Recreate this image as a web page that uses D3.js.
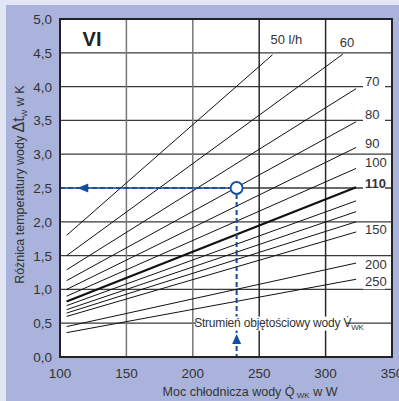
<!DOCTYPE html>
<html>
<head>
<meta charset="utf-8">
<script src="https://cdn.jsdelivr.net/npm/d3@7"></script>
<style>
  body { margin: 0; background: #e2e5f3; }
  svg { display: block; font-family: "Liberation Sans", Arial, sans-serif; }
</style>
</head>
<body>
<script>
// flow rate of each line (l/h) and its end points
const flows = [50, 60, 70, 80, 90, 100, 110, 120, 130, 140, 150, 200, 250]
const lineLabels = ["50 l/h", "60", "70", "80", "90", "100", "110", "", "", "", "150", "200", "250"]
const startQ = 105
const startT = [1.80, 1.50, 1.29, 1.13, 1.00, 0.90, 0.82, 0.76, 0.70, 0.65, 0.60, 0.45, 0.36]
const endQ = [260, 313, 323, 323, 323, 323, 323, 323, 323, 323, 323, 323, 323]
const endT = [4.47, 4.48, 3.97, 3.48, 3.10, 2.79, 2.51, 2.31, 2.15, 2.00, 1.85, 1.39, 1.15]

const xTicks = [100, 150, 200, 250, 300, 350]
const yTicks = [0, 0.5, 1, 1.5, 2, 2.5, 3, 3.5, 4, 4.5, 5]

// reading example: 233 W at 2.5 K
const markQ = 233
const markT = 2.5

const width = 399
const height = 401
const x = d3.scaleLinear([100, 350], [60, 392])
const y = d3.scaleLinear([0, 5], [357, 19])
const blue = "#0f4ea3"
const ink = "#333"

const svg = d3.select("body").append("svg")
  .attr("width", width)
  .attr("height", height)

svg.append("rect").attr("width", width).attr("height", height).attr("fill", "#e2e5f3")
svg.append("rect").attr("x", 6).attr("y", 5).attr("width", width - 6).attr("height", height - 5).attr("fill", "#aab3dc")

svg.append("rect")
  .attr("x", x(100)).attr("y", y(5))
  .attr("width", x(350) - x(100)).attr("height", y(0) - y(5))
  .attr("fill", "#fff")

// grid
svg.append("g")
  .selectAll("line")
  .data(yTicks.slice(1, -1))
  .join("line")
  .attr("x1", x(100)).attr("x2", x(350))
  .attr("y1", d => y(d)).attr("y2", d => y(d))
  .attr("stroke", "#3a3a3a").attr("stroke-width", 1.3)

svg.append("g")
  .selectAll("line")
  .data(xTicks.slice(1, -1))
  .join("line")
  .attr("x1", d => x(d)).attr("x2", d => x(d))
  .attr("y1", y(0)).attr("y2", y(5))
  .attr("stroke", d => d < 250 ? "#777" : "#2a2a2a").attr("stroke-width", 1.5)

// flow lines
const line = d3.line().x(d => x(d[0])).y(d => y(d[1]))
svg.append("g")
  .selectAll("path")
  .data(flows)
  .join("path")
  .attr("d", (f, i) => line([[startQ, startT[i]], [endQ[i], endT[i]]]))
  .attr("fill", "none")
  .attr("stroke", "#111")
  .attr("stroke-width", f => f === 110 ? 2.2 : 1)

// line labels
const labelDx = { 50: -2, 60: -3 }
const labelDy = { 50: -11, 60: -7, 70: -3, 80: -3, 90: 1, 100: -1, 110: 1, 150: 2, 200: 6, 250: 7 }
const labels = svg.append("g")
  .attr("font-size", 13)
  .attr("fill", ink)
  .selectAll("g")
  .data(flows.map((f, i) => ({ f, i })).filter(d => lineLabels[d.i]))
  .join("g")
  .attr("transform", d => {
    const lx = d.f <= 60 ? x(endQ[d.i]) + labelDx[d.f] : x(350) - 27
    return `translate(${lx},${y(endT[d.i]) + labelDy[d.f]})`
  })

labels.filter(d => d.f > 60).append("rect")
  .attr("x", -2).attr("y", -11).attr("width", 22).attr("height", 14)
  .attr("fill", "#fff")

labels.append("text")
  .attr("font-weight", d => d.f === 110 ? "bold" : null)
  .text(d => lineLabels[d.i])

// dashed reading lines
const dashed = svg.append("g").attr("stroke", blue).attr("stroke-width", 2).attr("stroke-dasharray", "5,3")
dashed.append("line")
  .attr("x1", x(100)).attr("x2", x(markQ) - 6)
  .attr("y1", y(markT)).attr("y2", y(markT))
dashed.append("line")
  .attr("x1", x(markQ)).attr("x2", x(markQ))
  .attr("y1", y(markT) + 6).attr("y2", y(0))

// volume flow caption, drawn over the dashed line
const cap = svg.append("g").attr("transform", `translate(${x(201)},${y(0.45)})`)
cap.append("rect").attr("x", 2).attr("y", -10).attr("width", 150).attr("height", 14).attr("fill", "#fff")
const capText = cap.append("text").attr("font-size", 12).attr("fill", ink).attr("letter-spacing", -0.2)
capText.append("tspan").text("Strumień objętościowy wody V̇")
capText.append("tspan").attr("font-size", 8).attr("dy", 3).text("WK")

const ax = x(113)
const ay = y(markT)
svg.append("path")
  .attr("d", `M${ax},${ay} L${ax + 11},${ay - 4.5} L${ax + 11},${ay + 4.5} Z`)
  .attr("fill", blue)
const bx = x(markQ)
const by = y(0.34)
svg.append("rect")
  .attr("x", bx - 2).attr("y", by - 1).attr("width", 4).attr("height", 13)
  .attr("fill", "#fff")
svg.append("path")
  .attr("d", `M${bx},${by} L${bx - 4.5},${by + 10} L${bx + 4.5},${by + 10} Z`)
  .attr("fill", blue)

svg.append("circle")
  .attr("cx", x(markQ)).attr("cy", y(markT)).attr("r", 6)
  .attr("fill", "#fff").attr("stroke", blue).attr("stroke-width", 1.8)

// frame
svg.append("rect")
  .attr("x", x(100)).attr("y", y(5))
  .attr("width", x(350) - x(100)).attr("height", y(0) - y(5))
  .attr("fill", "none").attr("stroke", "#222").attr("stroke-width", 2)

svg.append("text")
  .attr("x", x(117)).attr("y", y(4.6))
  .attr("font-size", 20).attr("font-weight", "bold").attr("fill", "#222")
  .text("VI")

// tick labels
const fmt = d => d3.format(".1f")(d).replace(".", ",")
svg.append("g")
  .attr("font-size", 13.5).attr("fill", ink).attr("text-anchor", "end")
  .selectAll("text")
  .data(yTicks)
  .join("text")
  .attr("x", x(100) - 8).attr("y", d => y(d) + 5)
  .text(fmt)

svg.append("g")
  .attr("font-size", 13.5).attr("fill", ink).attr("text-anchor", "middle")
  .selectAll("text")
  .data(xTicks)
  .join("text")
  .attr("x", d => x(d)).attr("y", 378)
  .text(d => d)

// axis titles
const xt = svg.append("text")
  .attr("x", 250).attr("y", 396)
  .attr("text-anchor", "middle").attr("font-size", 12.5).attr("fill", ink)
xt.append("tspan").text("Moc chłodnicza wody Q̇")
xt.append("tspan").attr("font-size", 8).attr("dy", 2).text(" WK")
xt.append("tspan").attr("dy", -2).text("  w W")

const yt = svg.append("text")
  .attr("transform", `translate(24,${y(2.55)}) rotate(-90)`)
  .attr("text-anchor", "middle").attr("font-size", 12.5).attr("fill", ink)
yt.append("tspan").text("Różnica temperatury wody ")
yt.append("tspan").attr("font-size", 16).text("Δt")
yt.append("tspan").attr("font-size", 8).attr("dy", 3).text("W")
yt.append("tspan").attr("dy", -3).text("   w K")
</script>
</body>
</html>
